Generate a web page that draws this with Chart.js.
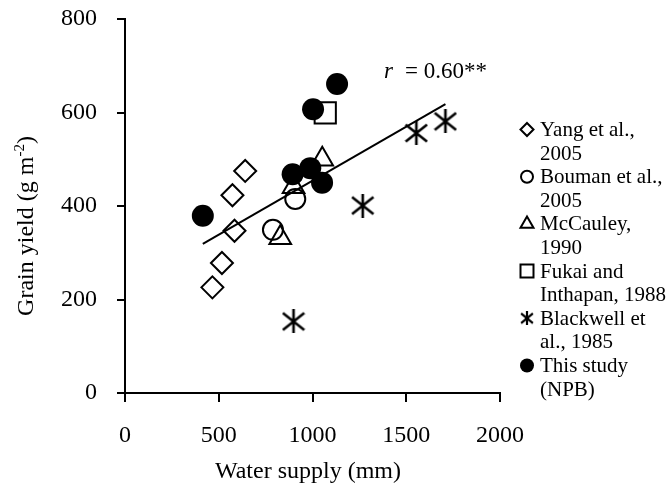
<!DOCTYPE html>
<html><head><meta charset="utf-8">
<script src="https://cdn.jsdelivr.net/npm/chart.js@4/dist/chart.umd.min.js"></script>
<style>html,body{margin:0;padding:0;background:#fff}#wrap{width:668px;height:488px;position:relative}</style>
</head><body><div id="wrap"><canvas id="c"></canvas></div>
<script>
// ---- data ----
const seriesNames = [
  ["Yang et al.,", "2005"],
  ["Bouman et al.,", "2005"],
  ["McCauley,", "1990"],
  ["Fukai and", "Inthapan, 1988"],
  ["Blackwell et", "al., 1985"],
  ["This study", "(NPB)"]
];
const yangX = [466, 517, 584, 573, 641];
const yangY = [226, 278, 347, 423, 475];
const boumanX = [789, 908];
const boumanY = [349, 415];
const mccauleyX = [828, 899, 1052];
const mccauleyY = [332, 441, 500];
const fukaiX = [1068];
const fukaiY = [599];
const blackwellX = [899, 1268, 1554, 1709];
const blackwellY = [153, 401, 556, 581];
const thisStudyX = [415, 894, 988, 1051, 1003, 1131];
const thisStudyY = [379, 468, 481, 450, 607, 661];
const trendX = [415, 1709];
const trendY = [319, 618];
const xTicks = [0, 500, 1000, 1500, 2000];
const yTicks = [0, 200, 400, 600, 800];
const xTitle = "Water supply (mm)";
const yTitleMain = "Grain yield (g m";
const yTitleSup = "-2";
const yTitleEnd = ")";
const rLabelVar = "r";
const rLabelRest = "= 0.60**";

// ---- helpers ----
const SERIF = "'Liberation Serif', 'Times New Roman', serif";
function pts(xs, ys) { return xs.map((x, i) => ({ x: x, y: ys[i] })); }
function makeAsterisk(size, lw) {
  const c = document.createElement('canvas');
  c.width = size; c.height = size;
  const g = c.getContext('2d');
  g.strokeStyle = '#000'; g.lineWidth = lw; g.lineCap = 'butt';
  const m = lw / 2;
  g.beginPath();
  g.moveTo(size / 2, 0); g.lineTo(size / 2, size);
  g.moveTo(m, size * 0.15); g.lineTo(size - m, size * 0.85);
  g.moveTo(m, size * 0.85); g.lineTo(size - m, size * 0.15);
  g.stroke();
  return c;
}
const starBig = makeAsterisk(24, 2.6);
const starSmall = makeAsterisk(14, 2.2);

const base = { borderColor: '#000', borderWidth: 2, backgroundColor: 'rgba(0,0,0,0)', showLine: false, pointHoverRadius: 0 };
const datasets = [
  Object.assign({}, base, { label: seriesNames[0].join(' '), data: pts(yangX, yangY), pointStyle: 'rectRot', pointRadius: 11, order: 5 }),
  Object.assign({}, base, { label: seriesNames[1].join(' '), data: pts(boumanX, boumanY), pointStyle: 'circle', pointRadius: 10, order: 4 }),
  Object.assign({}, base, { label: seriesNames[2].join(' '), data: pts(mccauleyX, mccauleyY), pointStyle: 'triangle', pointRadius: 12.5, order: 3 }),
  Object.assign({}, base, { label: seriesNames[3].join(' '), data: pts(fukaiX, fukaiY), pointStyle: 'rect', pointRadius: 15, order: 2 }),
  Object.assign({}, base, { label: seriesNames[4].join(' '), data: pts(blackwellX, blackwellY), pointStyle: starBig, pointRadius: 12, order: 1 }),
  Object.assign({}, base, { label: seriesNames[5].join(' '), data: pts(thisStudyX, thisStudyY), pointStyle: 'circle', pointRadius: 11, backgroundColor: '#000', borderWidth: 0, order: 0 }),
  { label: 'trend', data: pts(trendX, trendY), showLine: true, pointRadius: 0, borderColor: '#000', borderWidth: 2, fill: false, order: 6 }
];

function legendMarker(ctx, i, x, y) {
  ctx.save();
  ctx.strokeStyle = '#000'; ctx.fillStyle = '#000'; ctx.lineWidth = 2;
  ctx.beginPath();
  if (i === 0) { const r = 6.5; ctx.moveTo(x, y - r); ctx.lineTo(x + r, y); ctx.lineTo(x, y + r); ctx.lineTo(x - r, y); ctx.closePath(); ctx.stroke(); }
  else if (i === 1) { ctx.arc(x, y, 6, 0, Math.PI * 2); ctx.stroke(); }
  else if (i === 2) { const r = 7.5; ctx.moveTo(x, y - r); ctx.lineTo(x + r * 0.866, y + r / 2); ctx.lineTo(x - r * 0.866, y + r / 2); ctx.closePath(); ctx.stroke(); }
  else if (i === 3) { ctx.rect(x - 6.5, y - 6.5, 13, 13); ctx.stroke(); }
  else if (i === 4) { ctx.drawImage(starSmall, x - 7, y - 7); }
  else { ctx.arc(x, y, 7, 0, Math.PI * 2); ctx.fill(); }
  ctx.restore();
}

const decor = {
  id: 'decor',
  afterDraw(chart) {
    const ctx = chart.ctx;
    ctx.save();
    ctx.fillStyle = '#000';
    ctx.textBaseline = 'alphabetic';
    // x title
    ctx.font = '24px ' + SERIF;
    ctx.textAlign = 'center';
    ctx.fillText(xTitle, 308, 478);
    // y title (rotated)
    ctx.save();
    ctx.translate(22, 226);
    ctx.rotate(-Math.PI / 2);
    ctx.textAlign = 'left';
    ctx.font = '24px ' + SERIF;
    const w1 = ctx.measureText(yTitleMain).width;
    const w3 = ctx.measureText(yTitleEnd).width;
    ctx.font = '15px ' + SERIF;
    const w2 = ctx.measureText(yTitleSup).width;
    let sx = -(w1 + w2 + w3) / 2;
    ctx.font = '24px ' + SERIF;
    ctx.fillText(yTitleMain, sx, 11);
    ctx.font = '15px ' + SERIF;
    ctx.fillText(yTitleSup, sx + w1, 11 - 9);
    ctx.font = '24px ' + SERIF;
    ctx.fillText(yTitleEnd, sx + w1 + w2, 11);
    ctx.restore();
    // r label
    ctx.textAlign = 'left';
    ctx.font = 'italic 23px ' + SERIF;
    ctx.fillText(rLabelVar, 384, 78);
    ctx.font = '23px ' + SERIF;
    ctx.fillText(rLabelRest, 405, 78);
    // legend
    ctx.font = '21px ' + SERIF;
    let line = 0;
    const b0 = 136, step = 23.6;
    seriesNames.forEach((lines, i) => {
      legendMarker(ctx, i, 527, b0 + line * step - 6.5);
      lines.forEach(t => { ctx.fillText(t, 540, b0 + line * step); line++; });
    });
    ctx.restore();
  }
};

const tickFont = { family: SERIF, size: 24 };
new Chart(document.getElementById('c'), {
  type: 'scatter',
  data: { datasets: datasets },
  plugins: [decor],
  options: {
    responsive: true,
    maintainAspectRatio: false,
    animation: false,
    events: [],
    layout: { padding: { left: 0, top: 19, right: 168, bottom: 0 } },
    plugins: { legend: { display: false }, tooltip: { enabled: false } },
    scales: {
      x: {
        type: 'linear', min: 0, max: 2000,
        afterBuildTicks: s => { s.ticks = xTicks.map(v => ({ value: v })); },
        afterFit: s => { s.height = 95; s.paddingLeft = 0; s.paddingRight = 0; },
        grid: { drawOnChartArea: false, drawTicks: true, tickLength: 9, color: '#000', lineWidth: 2 },
        border: { display: true, color: '#000', width: 2 },
        ticks: { font: tickFont, color: '#000', padding: 19, maxRotation: 0, autoSkip: false, callback: v => String(v) }
      },
      y: {
        type: 'linear', min: 0, max: 800,
        afterBuildTicks: s => { s.ticks = yTicks.map(v => ({ value: v })); },
        afterFit: s => { s.width = 125; s.paddingTop = 0; s.paddingBottom = 0; },
        grid: { drawOnChartArea: false, drawTicks: true, tickLength: 8, color: '#000', lineWidth: 2 },
        border: { display: true, color: '#000', width: 2 },
        ticks: { font: tickFont, color: '#000', padding: 20, autoSkip: false, callback: v => String(v) }
      }
    }
  }
});
</script>
</body></html>
